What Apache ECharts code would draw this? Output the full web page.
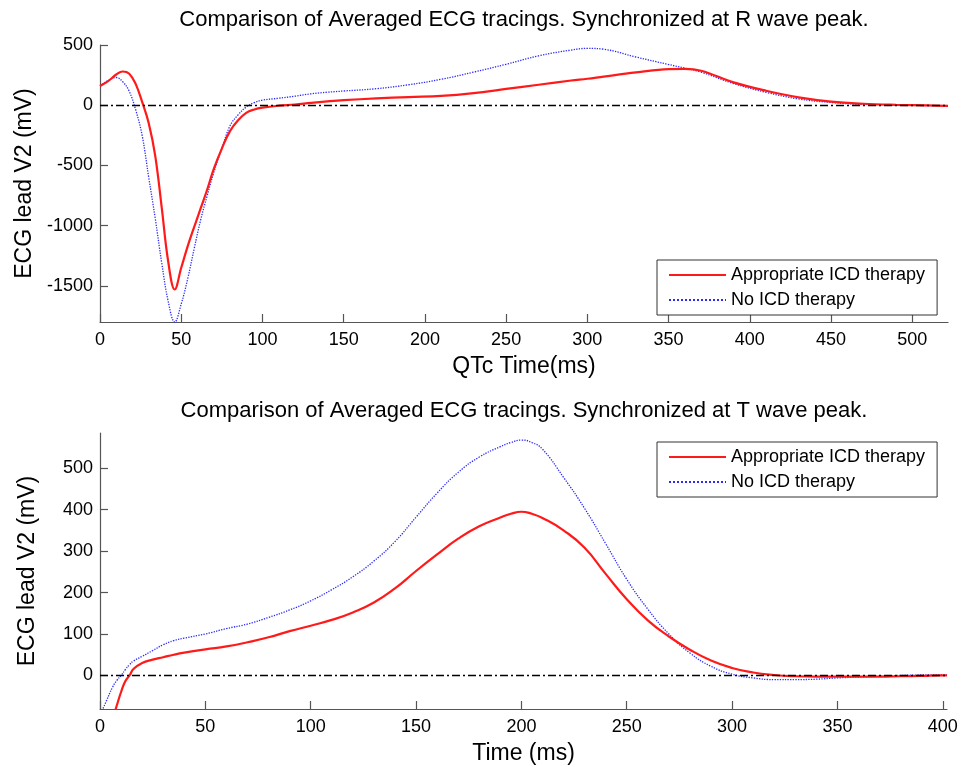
<!DOCTYPE html>
<html>
<head>
<meta charset="utf-8">
<script src="https://cdn.jsdelivr.net/npm/echarts@6/dist/echarts.min.js"></script>
<style>html,body{margin:0;padding:0;background:#fff}#c{width:969px;height:767px}</style>
</head>
<body>
<div id="c"></div>
<script>
// ---- Data ----
const nameRed = 'Appropriate ICD therapy';
const nameBlue = 'No ICD therapy';
const titleTop = 'Comparison of Averaged ECG tracings. Synchronized at R wave peak.';
const titleBottom = 'Comparison of Averaged ECG tracings. Synchronized at T wave peak.';
const xNameTop = 'QTc Time(ms)';
const xNameBottom = 'Time (ms)';
const yName = 'ECG lead V2 (mV)';

const topTime = [0,5,10,14,18,22,26,30,34,38,42,46,50,54,58,62,66,70,75,80,85,90,95,100,110,120,130,140,150,170,190,210,230,250,270,290,300,310,330,350,360,370,390,410,430,450,470,490,510,522];
const topRed  = [160,200,255,280,262,175,25,-150,-420,-850,-1300,-1530,-1350,-1170,-1010,-855,-700,-530,-360,-215,-125,-63,-35,-20,-4,6,20,32,42,56,68,77,100,135,170,205,220,238,272,300,302,286,190,120,65,30,12,3,-2,-5];
const topBlue = [160,205,230,195,115,-40,-255,-600,-940,-1310,-1630,-1800,-1650,-1440,-1190,-950,-750,-560,-360,-172,-80,-15,22,42,58,75,95,108,118,137,170,215,275,340,410,458,472,465,400,338,308,275,180,107,52,23,7,1,-3,-5];

const botTime = [0,3,6,8,10,12,14,16,20,25,30,35,40,50,60,70,80,90,100,110,120,130,140,150,160,170,180,190,195,200,205,210,220,230,240,250,260,270,280,290,300,310,320,330,340,350,360,370,380,390,400,402];
const botRed  = [null,null,-105,-72,-40,-14,0,16,30,38,44,50,55,63,70,80,92,107,120,134,152,176,210,252,292,330,360,381,390,395,390,380,350,308,245,184,133,94,62,36,18,7,1,-2,-3,-3,-3,-3,-2,-1,0,0];
const botBlue = [-97,-62,-28,-12,0,14,26,35,46,60,74,84,90,100,113,124,140,158,180,207,238,276,323,382,440,490,527,552,562,568,562,546,478,403,318,232,160,100,54,22,3,-6,-10,-10,-9,-6,-4,-2,0,1,1,1];

// ---- Chart ----
const F = '"Liberation Sans", Arial, Helvetica, sans-serif';
function pairs(t, v) {
  const out = [];
  for (let i = 0; i < t.length; i++) if (v[i] !== null) out.push([t[i], v[i]]);
  return out;
}
const plain = v => String(v);
const axisLineStyle = { color: '#555', width: 1.2 };
function xAxis(gi, max, name) {
  return {
    type: 'value', gridIndex: gi, min: 0, max: max, interval: 50,
    name: name, nameLocation: 'middle', nameGap: 33,
    nameTextStyle: { fontFamily: F, fontSize: 23, color: '#000' },
    axisLine: { onZero: false, lineStyle: axisLineStyle },
    axisTick: { inside: true, length: 8, lineStyle: axisLineStyle },
    axisLabel: { fontFamily: F, fontSize: 18, color: '#000', margin: 9, showMaxLabel: false, formatter: plain },
    splitLine: { show: false }
  };
}
function yAxis(gi, min, max, hideMax) {
  return {
    type: 'value', gridIndex: gi, min: min, max: max, splitNumber: 5,
    name: yName, nameLocation: 'middle', nameGap: 61, nameRotate: 90,
    nameTextStyle: { fontFamily: F, fontSize: 23, color: '#000' },
    axisLine: { onZero: false, lineStyle: axisLineStyle },
    axisTick: { inside: true, length: 8, lineStyle: axisLineStyle },
    axisLabel: { fontFamily: F, fontSize: 18, color: '#000', margin: 7, showMinLabel: false, showMaxLabel: !hideMax, formatter: plain },
    splitLine: { show: false }
  };
}
const zeroLine = {
  silent: true, symbol: ['none', 'none'], label: { show: false },
  lineStyle: { color: '#000', type: [8, 3, 2, 3], width: 1.3 },
  data: [{ yAxis: 0 }], animation: false
};
const redStyle = { color: '#ff1a1a', width: 2.2, type: 'solid' };
const blueStyle = { color: '#2a2aff', width: 1.3, type: 'dotted' };
function legend(top) {
  return {
    top: top, left: 657, orient: 'vertical', data: [nameRed, nameBlue],
    itemWidth: 57, itemHeight: 18, itemGap: 7, padding: [6, 12, 6, 11],
    borderColor: '#333', borderWidth: 1, backgroundColor: '#fff',
    itemStyle: { color: 'rgba(0,0,0,0)', opacity: 0, borderWidth: 0 },
    textStyle: { fontFamily: F, fontSize: 18, color: '#000' },
    selectedMode: false
  };
}
function title(text, top) {
  return { text: text, left: 524, top: top, textAlign: 'center', padding: 0,
    textStyle: { fontFamily: F, fontSize: 22, fontWeight: 'normal', color: '#000' } };
}

const chart = echarts.init(document.getElementById('c'));
chart.setOption({
  animation: false,
  backgroundColor: '#fff',
  title: [title(titleTop, 9), title(titleBottom, 400)],
  legend: [legend(260), legend(442)],
  grid: [
    { left: 100, right: 21, top: 45, height: 277 },
    { left: 100, right: 22, top: 433, height: 276 }
  ],
  xAxis: [xAxis(0, 522, xNameTop), xAxis(1, 402, xNameBottom)],
  yAxis: [yAxis(0, -1800, 500, false), yAxis(1, -81, 585, true)],
  series: [
    { type: 'line', name: nameRed, xAxisIndex: 0, yAxisIndex: 0, data: pairs(topTime, topRed),
      symbol: 'none', smooth: 0.4, lineStyle: redStyle, itemStyle: { color: redStyle.color }, markLine: zeroLine, z: 3 },
    { type: 'line', name: nameBlue, xAxisIndex: 0, yAxisIndex: 0, data: pairs(topTime, topBlue),
      symbol: 'none', smooth: 0.4, lineStyle: blueStyle, itemStyle: { color: blueStyle.color }, z: 2 },
    { type: 'line', name: nameRed, xAxisIndex: 1, yAxisIndex: 1, data: pairs(botTime, botRed),
      symbol: 'none', smooth: 0.5, lineStyle: redStyle, itemStyle: { color: redStyle.color }, markLine: zeroLine, z: 3 },
    { type: 'line', name: nameBlue, xAxisIndex: 1, yAxisIndex: 1, data: pairs(botTime, botBlue),
      symbol: 'none', smooth: 0.5, lineStyle: blueStyle, itemStyle: { color: blueStyle.color }, z: 2 }
  ]
});
</script>
</body>
</html>
